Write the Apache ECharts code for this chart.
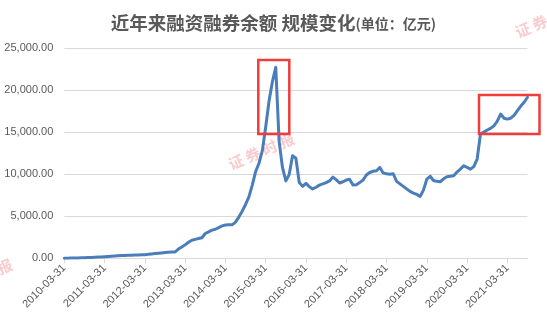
<!DOCTYPE html>
<html><head><meta charset="utf-8">
<script src="https://cdn.jsdelivr.net/npm/echarts@6/dist/echarts.min.js"></script>
<style>html,body{margin:0;padding:0;background:#fff}#c{width:547px;height:321px}</style>
</head><body><div id="c"></div>
<script>
// Monthly categories from 2010-03 to 2021-09 (month-end dates)
const firstYear = 2010, firstMonth = 3, monthCount = 139;
const categories = [];
for (let i = 0; i < monthCount; i++) {
  const y = firstYear + Math.floor((firstMonth - 1 + i) / 12);
  const m = (firstMonth - 1 + i) % 12 + 1;
  const d = new Date(y, m, 0).getDate();
  categories.push(y + '-' + String(m).padStart(2, '0') + '-' + String(d).padStart(2, '0'));
}

// 融资融券余额 (亿元), month by month
const balance2010 = [0, 15, 30, 40, 50, 60, 70, 85, 100, 120];
const balance2011 = [140, 160, 190, 220, 245, 270, 300, 320, 340, 360, 375, 385];
const balance2012 = [400, 415, 430, 470, 520, 560, 600, 640, 680, 720, 740, 760];
const balance2013 = [1100, 1350, 1600, 1900, 2150, 2250, 2350, 2450, 2950, 3150, 3350, 3450];
const balance2014 = [3650, 3850, 3950, 4000, 3980, 4300, 4900, 5600, 6400, 7300, 8700, 10300];
const balance2015 = [11300, 12800, 15600, 18700, 21000, 22700, 13900, 10800, 9200, 9950, 12200, 11900];
const balance2016 = [9000, 8550, 8900, 8500, 8250, 8450, 8700, 8850, 9000, 9200, 9650, 9350];
const balance2017 = [8950, 9100, 9300, 9400, 8700, 8750, 9000, 9300, 9900, 10200, 10350, 10400];
const balance2018 = [10800, 10150, 10050, 10000, 10050, 9150, 8850, 8550, 8250, 7950, 7750, 7600];
const balance2019 = [7350, 8100, 9400, 9750, 9250, 9150, 9100, 9450, 9700, 9750, 9800, 10250];
const balance2020 = [10600, 11000, 10800, 10600, 10900, 11800, 14800, 15000, 15250, 15450, 15750, 16300];
const balance2021 = [17150, 16650, 16550, 16650, 17000, 17550, 18100, 18550, 19150];
const balance = [].concat(balance2010, balance2011, balance2012, balance2013, balance2014,
  balance2015, balance2016, balance2017, balance2018, balance2019, balance2020, balance2021);

const yTicks = [0, 5000, 10000, 15000, 20000, 25000];
const titleMain = '近年来融资融券余额 规模变化';
const titleUnit = '(单位：亿元)';
const watermark = '证 券 时 报';

function fmt(v) {
  const s = Math.round(v).toString().replace(/\B(?=(\d{3})+(?!\d))/g, ',');
  return s + '.00';
}

const chart = echarts.init(document.getElementById('c'), null, {renderer: 'canvas'});
const wmStyle = {text: watermark, fill: 'rgba(238,115,125,0.38)', font: 'bold 15px "Noto Sans CJK SC"'};
chart.setOption({
  animation: false,
  backgroundColor: '#fff',
  title: {
    text: '{a|' + titleMain + '}{b|' + titleUnit + '}',
    left: 'center', top: 9,
    textStyle: {
      rich: {
        a: {fontSize: 18.5, fontWeight: 'bold', color: '#595959', fontFamily: '"Noto Sans CJK SC"'},
        b: {fontSize: 14, color: '#595959', fontFamily: '"Noto Sans CJK SC"'}
      }
    }
  },
  grid: {left: 64.3, right: 19.5, top: 48, bottom: 62.7, containLabel: false},
  xAxis: {
    type: 'category', data: categories, boundaryGap: false,
    axisLine: {lineStyle: {color: '#d9d9d9', width: 1}},
    axisTick: {show: true, length: 5, lineStyle: {color: '#d9d9d9'}, interval: function (i) { return i % 12 === 0; }},
    axisLabel: {interval: function (i) { return i % 12 === 0; }, rotate: 45, color: '#595959', fontSize: 11,
      fontFamily: '"Liberation Sans"', margin: 8},
    splitLine: {show: false}
  },
  yAxis: {
    type: 'value', min: yTicks[0], max: yTicks[yTicks.length - 1], interval: yTicks[1] - yTicks[0],
    axisLine: {show: false}, axisTick: {show: false},
    axisLabel: {formatter: fmt, color: '#595959', fontSize: 11, fontFamily: '"Liberation Sans"', margin: 11},
    splitLine: {lineStyle: {color: '#d9d9d9', width: 1}}
  },
  series: [{
    type: 'line', data: balance, showSymbol: false, symbol: 'none',
    lineStyle: {color: '#4a7ebb', width: 3, join: 'round', cap: 'round'},
    itemStyle: {color: '#4a7ebb'}
  }],
  graphic: [
    {type: 'text', x: 226, y: 158, rotation: 0.4, style: wmStyle, z: 0, silent: true},
    {type: 'text', x: 513, y: 26, rotation: 0.4, style: wmStyle, z: 0, silent: true},
    {type: 'text', x: -56, y: 284, rotation: 0.4, style: wmStyle, z: 0, silent: true},
    {type: 'rect', shape: {x: 258.3, y: 60, width: 31, height: 74}, style: {fill: 'none', stroke: '#f03c3c', lineWidth: 2.5}, z: 10},
    {type: 'rect', shape: {x: 479, y: 95, width: 60.5, height: 39}, style: {fill: 'none', stroke: '#f03c3c', lineWidth: 2.5}, z: 10}
  ]
});
</script>
</body></html>
